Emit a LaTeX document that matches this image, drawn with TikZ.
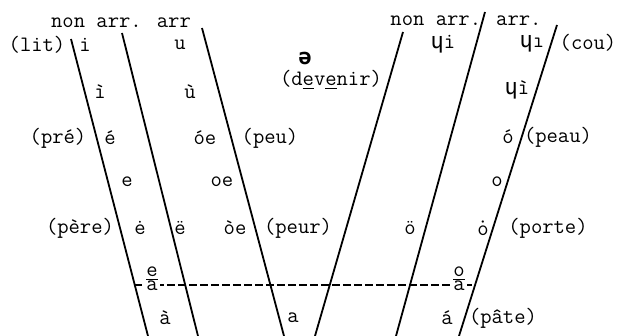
\documentclass[tikz,border=0pt]{standalone}
\usepackage{fontspec}
\newfontfamily\ipafont{DejaVu Sans Mono}
\usetikzlibrary{positioning}

\begin{document}
\begin{tikzpicture}[
      x=0.5pt, y=-0.5pt,
      lbl/.style={inner sep=0pt, font=\ttfamily\fontsize{11}{11}\selectfont},
      stack/.style={lbl, fill=white, inner xsep=1pt, align=center, font=\ttfamily\fontsize{11}{7}\selectfont},
      bound/.style={line width=0.9pt},
      split/.style={line width=0.8pt, dash pattern=on 4pt off 1.5pt}
  ]
    \useasboundingbox (0,0) rectangle (618,336);
    % boundary ends
    \coordinate (l1t) at (71,39);   \coordinate (l1b) at (148,336);
    \coordinate (l2t) at (122,33);  \coordinate (l2b) at (198,336);
    \coordinate (l3t) at (202,28);  \coordinate (l3b) at (284,336);
    \coordinate (r1t) at (403,32);  \coordinate (r1b) at (315,336);
    \coordinate (r2t) at (485,12);  \coordinate (r2b) at (396,336);
    \coordinate (r3t) at (557,25);  \coordinate (r3b) at (459,336);
    \coordinate (dl) at (134,285);  \coordinate (dr) at (475,285);
    \draw[split] (dl) -- (dr);
    % headings
    \node[lbl] (headL) at (121,23) {non arr. arr};
    \node[lbl] (headR) at (466,21) {non arr. arr.};
    % front vowels
    \node[lbl] (lit) at (37,45) {(lit)};
    \node[lbl] (i) at (85,45) {i};
    \node[lbl] (u) at (180,45) {u};
    \node[lbl] (igr) at (100,92) {ì};
    \node[lbl] (ugr) at (190,92) {ù};
    \node[lbl] (pre) at (58,138) {(pré)};
    \node[lbl] (eac) at (110,138) {é};
    \node[lbl] (oeac) at (205,138) {óe};
    \node[lbl] (peu) at (270,138) {(peu)};
    \node[lbl] (e) at (127,182) {e};
    \node[lbl] (oe) at (222,182) {oe};
    \node[lbl] (pere) at (80,228) {(père)};
    \node[lbl] (edot) at (140,228) {ė};
    \node[lbl] (euml) at (180,228) {ë};
    \node[lbl] (oegr) at (235,228) {òe};
    \node[lbl] (peur) at (298,228) {(peur)};
    \node[stack] (ea) at (152,279) {\underline{e}\\a};
    \node[lbl] (agr) at (165,318) {à};
    \node[lbl] (a) at (293,318) {a};
    % central vowel
    \node[lbl] (schwa) at (305,58) {\ipafont\bfseries ə};
    \node[lbl] (devenir) at (331,80) {(d\underline{e}v\underline{e}nir)};
    % back vowels
    \node[lbl] (wi) at (443,44) {{\ipafont ɥ}i};
    \node[lbl] (wu) at (532,44) {{\ipafont ɥ}ı};
    \node[lbl] (cou) at (588,43) {(cou)};
    \node[lbl] (wugr) at (517,90) {{\ipafont ɥ}ì};
    \node[lbl] (oac) at (508,137) {ó};
    \node[lbl] (peau) at (558,137) {(peau)};
    \node[lbl] (o) at (497,182) {o};
    \node[lbl] (ouml) at (410,228) {ö};
    \node[lbl] (odot) at (483,228) {$\dot{\mathtt{o}}$};
    \node[lbl] (porte) at (548,228) {(porte)};
    \node[stack] (oa) at (459,279) {\underline{o}\\a};
    \node[lbl] (aac) at (447,318) {á};
    \node[lbl] (pate) at (503,318) {(pâte)};
    % boundaries
    \foreach \t/\b in {l1t/l1b, l2t/l2b, l3t/l3b, r1t/r1b, r2t/r2b, r3t/r3b}
      \draw[bound] (\t) -- (\b);
  \end{tikzpicture}
\end{document}
